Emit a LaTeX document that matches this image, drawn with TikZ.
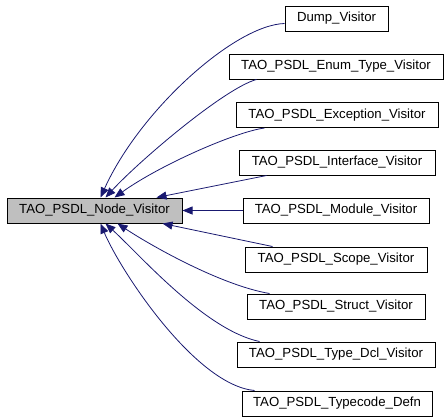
\documentclass[tikz,border=0pt]{standalone}
\usepackage{fontspec}
\setmainfont{Liberation Sans}
\usetikzlibrary{arrows.meta,calc}
\definecolor{edgeblue}{RGB}{25,25,112}
\definecolor{maingray}{RGB}{191,191,191}
\tikzset{
  cls/.style={draw=black, line width=0.75pt, fill=white, inner sep=0pt,
              minimum height=18.75pt, font=\fontsize{9.9pt}{11pt}\selectfont},
  edge/.style={draw=edgeblue, line width=0.6pt,
               {Triangle[length=7.5pt,width=6pt]}-}
}
\begin{document}
\begin{tikzpicture}[x=0.75pt,y=-0.75pt]
\useasboundingbox (0,0) rectangle (448,419);
\node[cls, fill=maingray, minimum width=131.25pt] (main) at (94.5,210.5) {TAO\_PSDL\_Node\_Visitor};
\node[cls, minimum width=77.25pt]  (dump)   at (336.5,18.5)  {Dump\_Visitor};
\node[cls, minimum width=160.5pt]  (enum)   at (336,66.5)    {TAO\_PSDL\_Enum\_Type\_Visitor};
\node[cls, minimum width=151.5pt]  (exc)    at (337,115)     {TAO\_PSDL\_Exception\_Visitor};
\node[cls, minimum width=147pt]    (intf)   at (337,162.5)   {TAO\_PSDL\_Interface\_Visitor};
\node[cls, minimum width=139.5pt]  (module) at (336,210.5)   {TAO\_PSDL\_Module\_Visitor};
\node[cls, minimum width=136.5pt]  (scope)  at (336,259.5)   {TAO\_PSDL\_Scope\_Visitor};
\node[cls, minimum width=133.5pt]  (struct) at (336,306.5)   {TAO\_PSDL\_Struct\_Visitor};
\node[cls, minimum width=148.5pt]  (tdcl)   at (336,354.5)   {TAO\_PSDL\_Type\_Dcl\_Visitor};
\node[cls, minimum width=142.5pt]  (tcode)  at (337,403.5)   {TAO\_PSDL\_Typecode\_Defn};

\draw[edge] ($(main.north west)+(94,0)$) .. controls (140,110) and (235,25) .. ($(dump.south west)+(0,-8)$);
\draw[edge] ($(main.north west)+(99,0)$) .. controls (140,160) and (225,88) .. ($(enum.south west)+(28,0)$);
\draw[edge] ($(main.north west)+(108,0)$) .. controls (160,165) and (235,132) .. ($(exc.south west)+(29,0)$);
\draw[edge] ($(main.north west)+(150,0)$) -- ($(intf.south west)+(28,0)$);
\draw[edge] (main.east) -- (module.west);
\draw[edge] ($(main.south west)+(156,0)$) -- ($(scope.north west)+(28,0)$);
\draw[edge] ($(main.south west)+(111,0)$) .. controls (150,245) and (220,285) .. ($(struct.north west)+(23,0)$);
\draw[edge] ($(main.south west)+(99,0)$) .. controls (140,255) and (205,330) .. ($(tdcl.north west)+(23,0)$);
\draw[edge] ($(main.south west)+(94,0)$) .. controls (120,270) and (195,385) .. ($(tcode.north west)+(13,0)$);
\end{tikzpicture}
\end{document}
